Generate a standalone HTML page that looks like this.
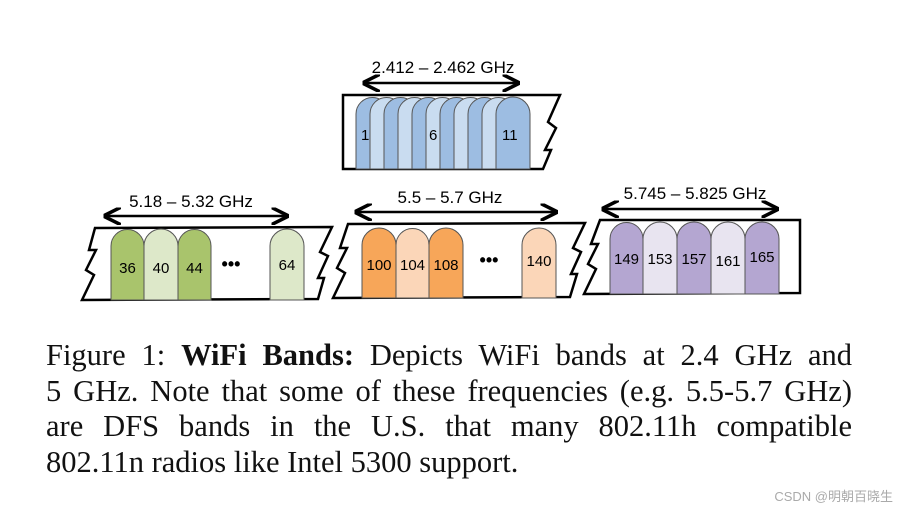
<!DOCTYPE html>
<html><head><meta charset="utf-8"><style>
html,body{margin:0;padding:0;background:#fff;}
body{position:relative;width:898px;height:511px;overflow:hidden;}
svg{display:block;position:absolute;left:0;top:0;}
.cap{position:absolute;left:46px;top:338px;width:806px;font-family:"Liberation Serif",serif;font-size:30.5px;line-height:35.5px;color:#111;text-align:justify;}
.cap span{display:block;text-align:justify;text-align-last:justify;white-space:nowrap;}
.cap span.last{text-align-last:left;}
.wm{position:absolute;right:5px;top:486px;font-family:"Liberation Sans","Noto Sans CJK SC",sans-serif;font-size:13px;color:#aaa;}
</style></head><body>
<svg width="898" height="511" viewBox="0 0 898 511" xmlns="http://www.w3.org/2000/svg">
<defs>
<marker id="ah" viewBox="0 0 10 10" refX="9" refY="5" markerWidth="7" markerHeight="7" orient="auto-start-reverse">
<path d="M0,0 L10,5 L0,10" fill="none" stroke="#000" stroke-width="2"/>
</marker>
</defs>
<g font-family="Liberation Sans, sans-serif" fill="#000">
<path d="M343,95 L560,95 L548,122 L556,128 L545,150 L551,150 L543,169 L343,169 Z" fill="#fff" stroke="#000" stroke-width="2.5"/>
<g stroke="#555" stroke-width="1">
<path d="M356,169 V114 A16.5,16.5 0 0 1 389,114 V169 Z" fill="#9dbde2"/>
<path d="M370,169 V114 A16.5,16.5 0 0 1 403,114 V169 Z" fill="#c9dcf0"/>
<path d="M384,169 V114 A16.5,16.5 0 0 1 417,114 V169 Z" fill="#9dbde2"/>
<path d="M398,169 V114 A16.5,16.5 0 0 1 431,114 V169 Z" fill="#c9dcf0"/>
<path d="M412,169 V114 A16.5,16.5 0 0 1 445,114 V169 Z" fill="#9dbde2"/>
<path d="M426,169 V114 A16.5,16.5 0 0 1 459,114 V169 Z" fill="#c9dcf0"/>
<path d="M440,169 V114 A16.5,16.5 0 0 1 473,114 V169 Z" fill="#9dbde2"/>
<path d="M454,169 V114 A16.5,16.5 0 0 1 487,114 V169 Z" fill="#c9dcf0"/>
<path d="M468,169 V114 A16.5,16.5 0 0 1 501,114 V169 Z" fill="#9dbde2"/>
<path d="M482,169 V114 A16.5,16.5 0 0 1 515,114 V169 Z" fill="#c9dcf0"/>
<path d="M496,169 V114 A16.5,16.5 0 0 1 530,114 V169 Z" fill="#9dbde2"/>
</g>
<text x="361" y="140" font-size="15">1</text>
<text x="429" y="140" font-size="15">6</text>
<text x="502" y="140" font-size="15">11</text>
<line x1="364" y1="83" x2="518" y2="83" stroke="#000" stroke-width="2.5" marker-start="url(#ah)" marker-end="url(#ah)"/>
<text x="443" y="73" font-size="17" text-anchor="middle">2.412 – 2.462 GHz</text>

<path d="M95,228 L332,227 L320,252 L328,256 L318,278 L324,278 L318,299 L82,300 L94,275 L86,270 L96,250 L89,250 Z" fill="#fff" stroke="#000" stroke-width="2.5"/>
<g stroke="#555" stroke-width="1">
<path d="M111,300 V246 A16.5,16.5 0 0 1 144,246 V300 Z" fill="#a9c46c"/>
<path d="M144,300 V246 A16.5,16.5 0 0 1 178,246 V300 Z" fill="#dde8c9"/>
<path d="M178,300 V246 A16.5,16.5 0 0 1 211,246 V300 Z" fill="#a9c46c"/>
<path d="M270,300 V246 A16.5,16.5 0 0 1 304,246 V300 Z" fill="#dde8c9"/>
</g>
<text x="127.5" y="273" font-size="15" text-anchor="middle">36</text>
<text x="161" y="273" font-size="15" text-anchor="middle">40</text>
<text x="194.5" y="273" font-size="15" text-anchor="middle">44</text>
<text x="231" y="270" font-size="18" font-weight="bold" text-anchor="middle">•••</text>
<text x="287" y="270" font-size="15" text-anchor="middle">64</text>
<line x1="105" y1="216" x2="287" y2="216" stroke="#000" stroke-width="2.5" marker-start="url(#ah)" marker-end="url(#ah)"/>
<text x="191" y="207" font-size="17" text-anchor="middle">5.18 – 5.32 GHz</text>

<path d="M348,224 L585,223 L573,248 L581,252 L571,274 L577,274 L570,297 L333,298 L345,273 L337,268 L347,248 L340,248 Z" fill="#fff" stroke="#000" stroke-width="2.5"/>
<g stroke="#555" stroke-width="1">
<path d="M362,298 V245 A16.5,16.5 0 0 1 396,245 V298 Z" fill="#f7a659"/>
<path d="M396,298 V245 A16.5,16.5 0 0 1 429,245 V298 Z" fill="#fbd6b8"/>
<path d="M429,298 V245 A16.5,16.5 0 0 1 463,245 V298 Z" fill="#f7a659"/>
<path d="M522,298 V245 A16.5,16.5 0 0 1 556,245 V298 Z" fill="#fbd6b8"/>
</g>
<text x="379" y="270" font-size="15" text-anchor="middle">100</text>
<text x="412.5" y="270" font-size="15" text-anchor="middle">104</text>
<text x="446" y="270" font-size="15" text-anchor="middle">108</text>
<text x="489" y="266" font-size="18" font-weight="bold" text-anchor="middle">•••</text>
<text x="539" y="266" font-size="15" text-anchor="middle">140</text>
<line x1="356" y1="212" x2="556" y2="212" stroke="#000" stroke-width="2.5" marker-start="url(#ah)" marker-end="url(#ah)"/>
<text x="450" y="203" font-size="17" text-anchor="middle">5.5 – 5.7 GHz</text>

<path d="M600,220 L800,220 L800,293 L584,294 L596,269 L588,264 L598,244 L591,244 Z" fill="#fff" stroke="#000" stroke-width="2.5"/>
<g stroke="#555" stroke-width="1">
<path d="M610,294 V239 A16.5,16.5 0 0 1 643,239 V294 Z" fill="#b4a6d1"/>
<path d="M643,294 V239 A16.5,16.5 0 0 1 677,239 V294 Z" fill="#e8e4f0"/>
<path d="M677,294 V239 A16.5,16.5 0 0 1 711,239 V294 Z" fill="#b4a6d1"/>
<path d="M711,294 V239 A16.5,16.5 0 0 1 745,239 V294 Z" fill="#e8e4f0"/>
<path d="M745,294 V239 A16.5,16.5 0 0 1 779,239 V294 Z" fill="#b4a6d1"/>
</g>
<text x="626.5" y="264" font-size="15" text-anchor="middle">149</text>
<text x="660" y="264" font-size="15" text-anchor="middle">153</text>
<text x="694" y="264" font-size="15" text-anchor="middle">157</text>
<text x="728" y="266" font-size="15" text-anchor="middle">161</text>
<text x="762" y="262" font-size="15" text-anchor="middle">165</text>
<line x1="603" y1="209" x2="777" y2="209" stroke="#000" stroke-width="2.5" marker-start="url(#ah)" marker-end="url(#ah)"/>
<text x="695" y="199" font-size="17" text-anchor="middle">5.745 – 5.825 GHz</text>
</g>
</svg>
<div class="cap">
<span>Figure 1: <b>WiFi Bands:</b> Depicts WiFi bands at 2.4 GHz and</span>
<span>5 GHz. Note that some of these frequencies (e.g. 5.5-5.7 GHz)</span>
<span>are DFS bands in the U.S. that many 802.11h compatible</span>
<span class="last">802.11n radios like Intel 5300 support.</span>
</div>
<div class="wm">CSDN @明朝百晓生</div>
</body></html>
